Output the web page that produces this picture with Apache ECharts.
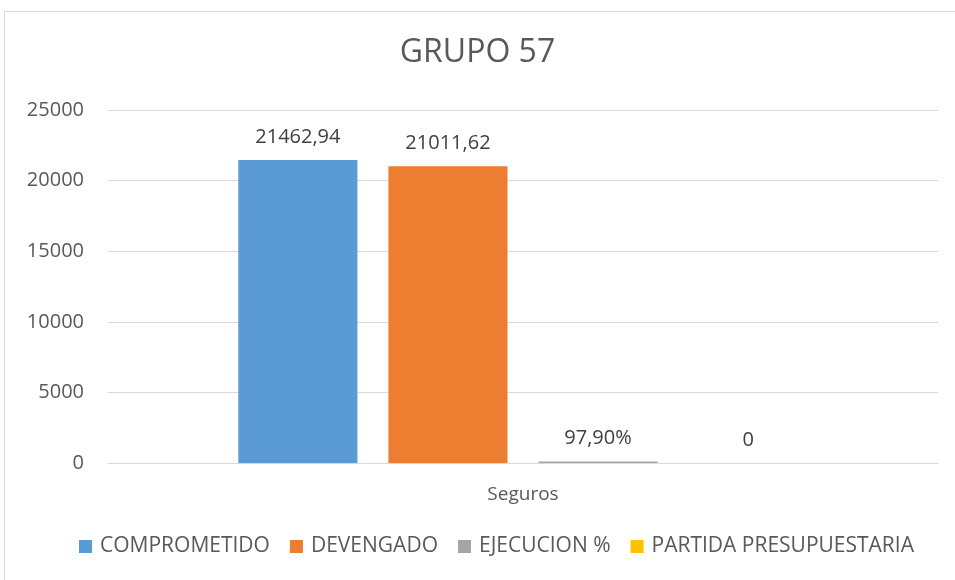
<!DOCTYPE html>
<html>
<head>
<meta charset="utf-8">
<script src="https://cdn.jsdelivr.net/npm/echarts@6/dist/echarts.min.js"></script>
<style>
html,body{margin:0;padding:0;background:#fff;}
#c{width:955px;height:580px;}
</style>
</head>
<body>
<div id="c"></div>
<script>
const categories = ['Seguros'];
const seriesNames = ['COMPROMETIDO', 'DEVENGADO', 'EJECUCION %', 'PARTIDA PRESUPUESTARIA'];
const comprometido = [21462.94];
const devengado = [21011.62];
const ejecucion = [97.90];
const partida = [0];
const labelTexts = ['21462,94', '21011,62', '97,90%', '0'];
const yTicks = [0, 5000, 10000, 15000, 20000, 25000];

const colors = ['#5B9BD5', '#ED7D31', '#A5A5A5', '#FFC000'];
const font = '"Open Sans", "Liberation Sans", sans-serif';
const dataSets = [comprometido, devengado, ejecucion, partida];

const chart = echarts.init(document.getElementById('c'), null, {renderer: 'canvas'});
chart.setOption({
  animation: false,
  color: colors,
  title: {
    text: 'GRUPO 57',
    left: 'center',
    top: 32,
    textStyle: {fontFamily: font, fontSize: 32, fontWeight: 'normal', color: '#595959'}
  },
  graphic: [{
    type: 'rect',
    shape: {x: 4.5, y: 11.5, width: 980, height: 600},
    style: {fill: 'none', stroke: '#d9d9d9', lineWidth: 1},
    silent: true
  }],
  grid: {left: 108, right: 17, top: 110, bottom: 117, containLabel: false},
  legend: {
    bottom: 18,
    left: 74,
    itemWidth: 13,
    itemHeight: 13,
    itemGap: 20,
    icon: 'rect',
    textStyle: {fontFamily: font, fontSize: 21, color: '#595959', padding: [0, 0, 0, 3]},
    data: seriesNames
  },
  xAxis: {
    type: 'category',
    data: categories,
    axisLine: {lineStyle: {color: '#d9d9d9'}},
    axisTick: {show: false},
    axisLabel: {fontFamily: font, fontSize: 19, color: '#595959', margin: 22}
  },
  yAxis: {
    type: 'value',
    min: yTicks[0],
    max: yTicks[yTicks.length - 1],
    interval: yTicks[1] - yTicks[0],
    axisLine: {show: false},
    axisTick: {show: false},
    splitLine: {lineStyle: {color: '#d9d9d9', width: 1}},
    axisLabel: {fontFamily: font, fontSize: 20, color: '#595959', margin: 24, formatter: v => String(v)}
  },
  series: seriesNames.map((name, i) => ({
    name: name,
    type: 'bar',
    data: dataSets[i],
    barGap: '26%',
    barCategoryGap: '31.4%',
    label: {
      show: true,
      position: 'top',
      distance: 13,
      fontFamily: font,
      fontSize: 20,
      color: '#404040',
      formatter: () => labelTexts[i]
    }
  }))
});
</script>
</body>
</html>
